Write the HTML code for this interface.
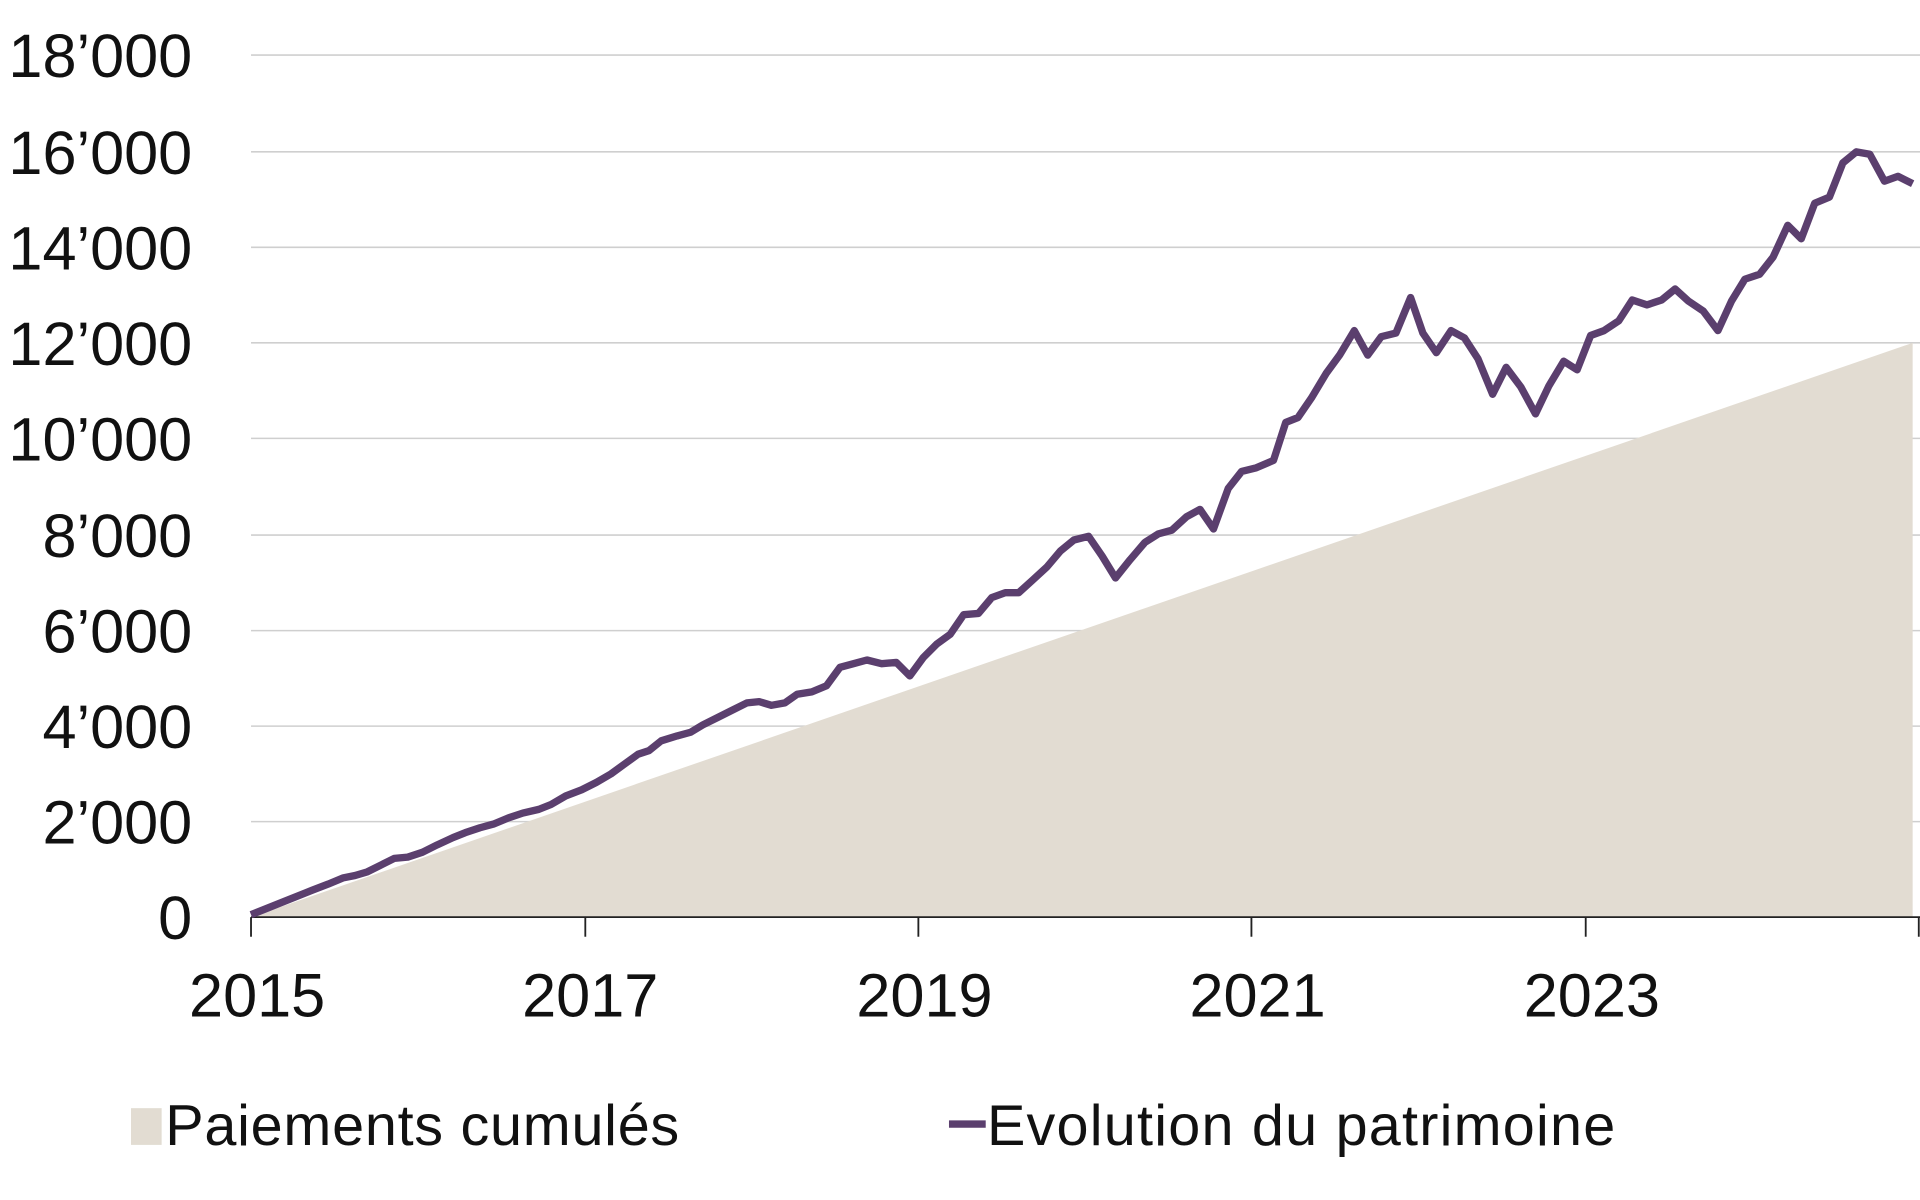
<!DOCTYPE html>
<html><head><meta charset="utf-8"><style>html,body{margin:0;padding:0;background:#fff}svg{display:block}</style></head>
<body>
<svg width="1920" height="1200" viewBox="0 0 1568 980" xmlns="http://www.w3.org/2000/svg" font-family="'Liberation Sans', sans-serif">
<g stroke="#cfcfcf" stroke-width="1.3">
<line x1="205" x2="1568" y1="45" y2="45"/><line x1="205" x2="1568" y1="124" y2="124"/>
<line x1="205" x2="1568" y1="202" y2="202"/><line x1="205" x2="1568" y1="280" y2="280"/>
<line x1="205" x2="1568" y1="358" y2="358"/><line x1="205" x2="1568" y1="437" y2="437"/>
<line x1="205" x2="1568" y1="515" y2="515"/><line x1="205" x2="1568" y1="593" y2="593"/>
<line x1="205" x2="1568" y1="671" y2="671"/>
</g>
<polygon points="205,749 1562,280 1562,749" fill="#e2dcd2"/>
<g stroke="#222" stroke-width="1.5">
<line x1="205" x2="1568" y1="749" y2="749"/>
<line x1="205" x2="205" y1="749" y2="765"/><line x1="478" x2="478" y1="749" y2="765"/>
<line x1="750" x2="750" y1="749" y2="765"/><line x1="1022" x2="1022" y1="749" y2="765"/>
<line x1="1295" x2="1295" y1="749" y2="765"/><line x1="1567" x2="1567" y1="749" y2="765"/>
</g>
<polyline fill="none" stroke="#5b3f6e" stroke-width="6" stroke-linejoin="round" points="205,747 230,737 255,727 268,722 280,717 290,715 300,712 312,706 322,701 333,700 345,696 357,690 370,684 380,680 392,676 403,673 415,668 427,664 440,661 450,657 462,650 475,645 487,639 499,632 510,624 521,616 530,613 540,605 553,601 564,598 574,592 586,586 598,580 610,574 620,573 630,576 641,574 651,567 663,565 675,560 686,545 697,542 708,539 720,542 732,541 743,552 754,537 765,526 776,518 787,502 799,501 810,488 821,484 832,484 843,474 855,463 866,450 877,441 889,438 900,454 911,472 923,457 935,443 946,436 957,433 969,422 980,416 991,432 1003,399 1014,385 1026,382 1040,376 1050,345 1060,341 1071,325 1083,305 1094,290 1106,270 1117,290 1128,275 1140,272 1152,243 1162,272 1173,288 1185,270 1196,276 1207,293 1219,322 1230,300 1242,316 1254,338 1265,315 1277,295 1288,302 1299,274 1310,270 1322,262 1333,245 1345,249 1357,245 1368,236 1379,246 1391,254 1403,270 1414,246 1425,228 1437,224 1448,210 1460,184 1471,195 1482,166 1494,161 1505,133 1516,124 1527,126 1539,148 1550,144 1562,150"/>
<g font-size="50" fill="#111" text-anchor="end">
<text x="157" y="63">18’000</text><text x="157" y="142">16’000</text>
<text x="157" y="220">14’000</text><text x="157" y="298">12’000</text>
<text x="157" y="376">10’000</text><text x="157" y="455">8’000</text>
<text x="157" y="533">6’000</text><text x="157" y="611">4’000</text>
<text x="157" y="689">2’000</text><text x="157" y="767">0</text>
</g>
<g font-size="50" fill="#111" text-anchor="middle">
<text x="210" y="830">2015</text><text x="482" y="830">2017</text>
<text x="755" y="830">2019</text><text x="1027" y="830">2021</text>
<text x="1300" y="830">2023</text>
</g>
<rect x="107" y="905" width="25" height="30" fill="#e2dcd2"/>
<text x="135" y="935" font-size="47" letter-spacing="0.6" fill="#111">Paiements cumulés</text>
<line x1="775" x2="805" y1="918" y2="918" stroke="#5b3f6e" stroke-width="6"/>
<text x="806" y="935" font-size="47" letter-spacing="1" fill="#111">Evolution du patrimoine</text>
</svg>
</body></html>
